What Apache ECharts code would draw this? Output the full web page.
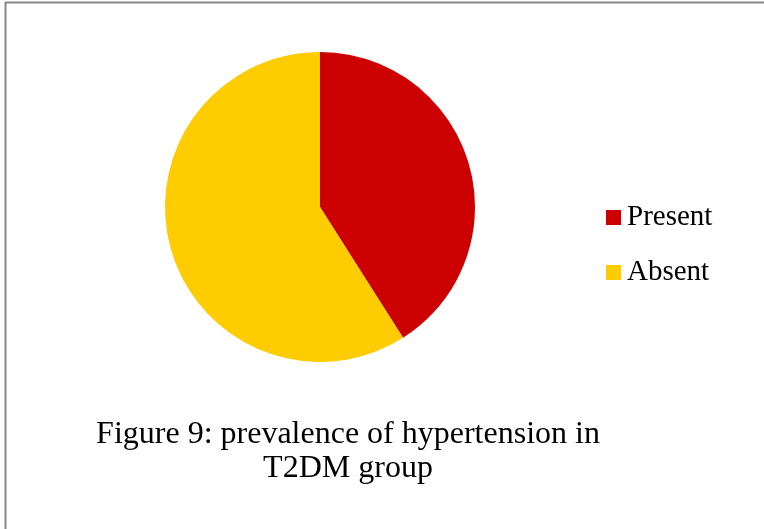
<!DOCTYPE html>
<html><head><meta charset="utf-8">
<script src="https://cdn.jsdelivr.net/npm/echarts@6/dist/echarts.min.js"></script>
<style>html,body{margin:0;padding:0;background:#fff}#c{width:764px;height:529px}</style>
</head><body><div id="c"></div>
<script>
const categories = ["Present", "Absent"];
const values = [41, 59];
const colors = ["#CC0000", "#FFCC00"];
const titleLines = ["Figure 9: prevalence of hypertension in", "T2DM group"];

const chart = echarts.init(document.getElementById('c'), null, {renderer: 'canvas'});
chart.setOption({
  animation: false,
  backgroundColor: '#fff',
  graphic: [
    {type: 'line', shape: {x1: 5.5, y1: 2, x2: 5.5, y2: 529}, style: {stroke: '#888', lineWidth: 2}},
    {type: 'line', shape: {x1: 5, y1: 2.5, x2: 764, y2: 2.5}, style: {stroke: '#888', lineWidth: 2}}
  ],
  title: {
    text: titleLines.join('\n'),
    left: 348, top: 418, textAlign: 'center', padding: 0,
    textStyle: {fontFamily: 'Liberation Serif', fontSize: 32, fontWeight: 'normal', color: '#000', lineHeight: 34}
  },
  legend: {
    orient: 'vertical', left: 606, top: 203, padding: 0,
    itemWidth: 15, itemHeight: 15, itemGap: 26,
    icon: 'rect',
    textStyle: {fontFamily: 'Liberation Serif', fontSize: 29, color: '#000', padding: [0,0,0,1], lineHeight: 29},
    data: categories
  },
  series: [{
    type: 'pie',
    center: [320, 207], radius: 155,
    startAngle: 90, clockwise: true,
    label: {show: false}, labelLine: {show: false},
    emphasis: {disabled: true},
    itemStyle: {borderWidth: 0},
    data: categories.map((c, i) => ({name: c, value: values[i], itemStyle: {color: colors[i]}}))
  }]
});
</script></body></html>
